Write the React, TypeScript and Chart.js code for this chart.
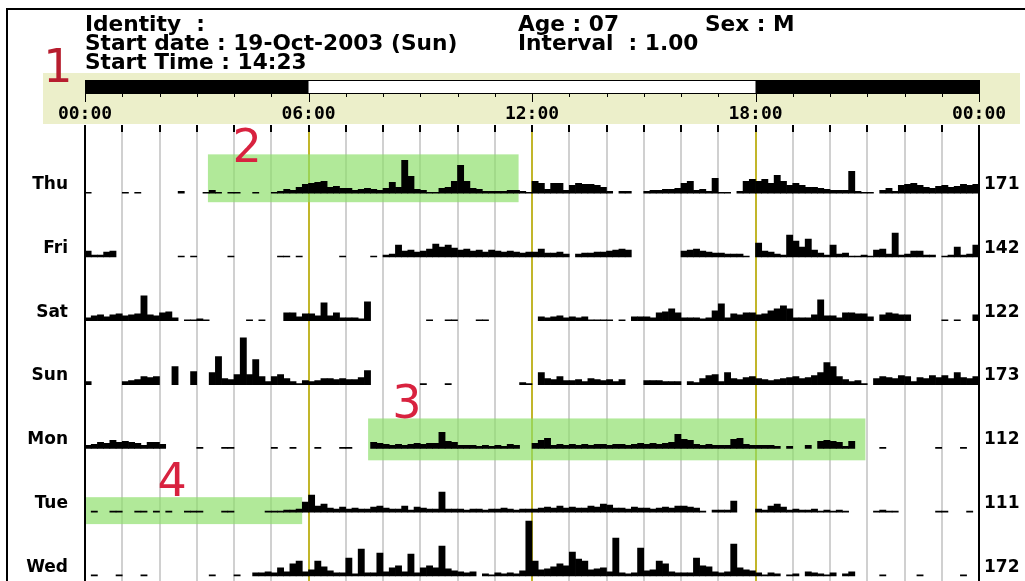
import React, { useEffect, useRef } from 'react';
import { Chart, registerables } from 'chart.js';

Chart.register(...registerables);

// ---------- data ----------
const DAYS = ['Thu', 'Fri', 'Sat', 'Sun', 'Mon', 'Tue', 'Wed'];
const TOTALS = [171, 142, 122, 173, 112, 111, 172];
const HOUR_TICKS = [0, 1, 2, 3, 4, 5, 6, 7, 8, 9, 10, 11, 12, 13, 14, 15, 16, 17, 18, 19, 20, 21, 22, 23, 24];
const BINS_PER_HOUR = 6; // 10-minute bins
const ROW_SPAN = 64; // activity counts between two day baselines

// activity counts per 10-minute bin (6 per hour, 24 hours)
const thu = [
  1, 0, 0, 0, 0, 0, 1, 0, 1, 0, 0, 0, 0, 0, 0, 2, 0, 0, 0, 1, 3, 1, 0, 1,
  1, 0, 0, 1, 0, 0, 1, 2, 4, 3, 6, 9, 10, 11, 12, 6, 7, 5, 5, 3, 4, 5, 4, 3,
  5, 11, 6, 33, 17, 4, 3, 1, 1, 5, 6, 12, 28, 12, 5, 4, 2, 2, 2, 2, 3, 3, 2, 1,
  12, 10, 4, 10, 10, 3, 8, 10, 9, 9, 8, 6, 2, 0, 2, 2, 0, 0, 2, 3, 3, 4, 4, 5,
  10, 12, 3, 4, 2, 15, 1, 1, 0, 2, 12, 14, 12, 14, 10, 18, 12, 8, 10, 8, 6, 6, 5, 4,
  3, 3, 3, 22, 2, 1, 1, 0, 3, 5, 2, 8, 9, 10, 8, 6, 5, 7, 8, 6, 7, 9, 8, 9,
];
const fri = [
  6, 2, 2, 5, 6, 0, 0, 0, 0, 0, 0, 0, 0, 0, 0, 1, 0, 1, 0, 0, 0, 0, 0, 1,
  0, 0, 0, 0, 0, 0, 0, 1, 1, 0, 1, 0, 0, 0, 0, 0, 0, 1, 0, 0, 0, 0, 1, 0,
  2, 3, 12, 6, 7, 5, 6, 8, 13, 10, 12, 9, 7, 8, 6, 7, 5, 7, 6, 5, 6, 5, 4, 5,
  5, 8, 4, 4, 5, 3, 0, 3, 4, 4, 5, 5, 6, 7, 8, 7, 0, 0, 0, 0, 0, 0, 0, 0,
  6, 7, 8, 6, 5, 4, 4, 3, 3, 3, 1, 0, 14, 6, 5, 3, 2, 22, 16, 10, 18, 7, 4, 2,
  12, 3, 4, 1, 1, 2, 1, 7, 8, 3, 24, 2, 3, 6, 6, 2, 2, 0, 1, 2, 10, 2, 3, 12,
];
const sat = [
  3, 5, 6, 4, 6, 7, 5, 6, 7, 25, 6, 5, 8, 9, 3, 0, 1, 1, 2, 1, 0, 0, 0, 0,
  0, 0, 1, 0, 1, 0, 0, 0, 8, 8, 4, 7, 7, 5, 18, 5, 8, 3, 3, 3, 2, 19, 0, 0,
  0, 0, 0, 0, 0, 0, 0, 1, 0, 0, 1, 1, 0, 0, 0, 1, 1, 0, 0, 0, 0, 0, 0, 0,
  0, 4, 3, 4, 5, 3, 4, 3, 4, 1, 1, 1, 1, 0, 1, 0, 4, 4, 4, 3, 8, 9, 12, 8,
  3, 3, 3, 2, 3, 10, 17, 3, 7, 6, 8, 8, 6, 7, 10, 12, 15, 12, 3, 3, 3, 6, 21, 5,
  5, 3, 8, 8, 7, 7, 4, 0, 6, 8, 7, 6, 6, 0, 0, 0, 0, 0, 1, 0, 1, 0, 0, 6,
];
const sun = [
  3, 0, 0, 0, 0, 0, 3, 4, 5, 8, 7, 8, 0, 0, 18, 0, 0, 13, 0, 0, 12, 28, 6, 5,
  10, 47, 10, 25, 8, 3, 8, 10, 6, 3, 1, 4, 3, 4, 6, 6, 5, 6, 5, 5, 7, 14, 0, 0,
  0, 0, 0, 0, 0, 0, 1, 0, 0, 0, 1, 0, 0, 0, 0, 0, 0, 0, 0, 0, 0, 0, 2, 1,
  0, 12, 6, 5, 8, 4, 4, 5, 3, 6, 5, 4, 5, 3, 5, 0, 0, 0, 4, 4, 4, 3, 3, 3,
  0, 3, 2, 6, 9, 10, 3, 12, 6, 5, 7, 8, 6, 5, 4, 5, 6, 7, 8, 6, 7, 9, 12, 22,
  18, 8, 5, 3, 4, 1, 0, 6, 8, 7, 6, 9, 8, 3, 7, 6, 9, 7, 9, 6, 12, 7, 6, 8,
];
const mon = [
  3, 4, 6, 5, 8, 6, 7, 6, 5, 3, 6, 6, 4, 0, 0, 0, 0, 0, 1, 0, 0, 0, 1, 1,
  0, 0, 0, 0, 0, 0, 1, 0, 0, 1, 0, 0, 0, 1, 0, 0, 0, 1, 1, 0, 0, 0, 6, 5,
  4, 3, 4, 3, 4, 5, 4, 5, 5, 16, 7, 6, 3, 3, 3, 2, 3, 2, 3, 2, 4, 3, 0, 0,
  5, 8, 10, 3, 4, 3, 4, 3, 4, 3, 4, 4, 3, 4, 4, 3, 4, 5, 4, 5, 4, 5, 6, 14,
  9, 8, 4, 3, 4, 3, 3, 3, 9, 10, 4, 3, 3, 3, 3, 2, 0, 2, 0, 0, 3, 0, 7, 8,
  7, 6, 2, 7, 0, 0, 0, 0, 1, 0, 0, 0, 0, 0, 0, 0, 0, 1, 0, 0, 0, 1, 0, 0,
];
const tue = [
  0, 1, 0, 0, 1, 1, 0, 0, 1, 1, 0, 1, 0, 1, 0, 0, 1, 1, 1, 0, 0, 0, 1, 1,
  0, 0, 0, 0, 0, 1, 1, 1, 2, 2, 3, 10, 17, 6, 8, 4, 3, 5, 3, 4, 3, 3, 5, 6,
  4, 3, 3, 6, 2, 5, 4, 3, 3, 20, 3, 3, 3, 2, 3, 3, 2, 3, 3, 4, 3, 2, 3, 3,
  3, 4, 5, 4, 6, 4, 5, 4, 4, 6, 5, 8, 7, 4, 4, 3, 5, 4, 4, 3, 4, 5, 4, 6,
  6, 5, 4, 1, 0, 2, 2, 2, 11, 0, 0, 0, 3, 2, 6, 8, 5, 2, 3, 2, 2, 3, 1, 2,
  1, 2, 1, 0, 0, 0, 0, 1, 2, 1, 1, 0, 0, 0, 0, 0, 0, 1, 1, 0, 0, 0, 1, 0,
];
const wed = [
  0, 1, 0, 0, 0, 1, 0, 0, 0, 1, 0, 0, 0, 0, 0, 0, 0, 0, 0, 0, 1, 0, 0, 0,
  1, 0, 0, 3, 3, 4, 3, 8, 4, 12, 15, 4, 6, 15, 9, 5, 3, 3, 18, 2, 27, 3, 3, 23,
  4, 8, 10, 4, 22, 3, 8, 10, 8, 30, 7, 5, 4, 3, 4, 0, 2, 1, 3, 2, 3, 2, 5, 55,
  15, 6, 7, 9, 12, 10, 24, 17, 15, 6, 7, 8, 4, 38, 3, 2, 3, 28, 5, 6, 15, 12, 4, 3,
  3, 3, 18, 10, 9, 4, 3, 4, 32, 8, 6, 5, 3, 1, 3, 2, 0, 1, 2, 0, 4, 3, 2, 1,
  3, 0, 2, 4, 0, 0, 0, 0, 1, 0, 0, 0, 0, 0, 1, 0, 0, 0, 0, 0, 0, 1, 0, 0,
];
const SERIES = [thu, fri, sat, sun, mon, tue, wed];

// light / dark schedule (hours)
const DARK_START = [0, 18];
const DARK_END = [6, 24];

// header texts
const HEADER_TEXT = ['Identity  :', 'Start date : 19-Oct-2003 (Sun)', 'Start Time : 14:23'];
const HEADER_RIGHT = ['Age : 07', 'Interval  : 1.00'];
const HEADER_SEX = 'Sex : M';

// highlighted regions (row index, hour range, count offsets around baseline)
const BOX_LABELS = ['2', '3', '4'];
const BOX_ROWS = [0, 4, 5];
const BOX_FROM = [3.3, 7.6, 0];
const BOX_TO = [11.64, 20.95, 5.83];
const BOX_TOP = [39, 30, 15];
const BOX_BOTTOM = [-9, -12, -12];
const LABEL_HOUR = [4.35, 8.64, 2.34];
const LABEL_OFFSET = [43, 42, 28];

const fmtHour = (h: number) => String(h % 24).padStart(2, '0') + ':00';
const baseOf = (row: number) => ROW_SPAN * (DAYS.length - 1 - row);

const decor = {
  id: 'decor',
  beforeDraw(chart: any) {
    const { ctx, width, height } = chart;
    ctx.save();
    ctx.fillStyle = '#ffffff';
    ctx.fillRect(0, 0, width, height);
    ctx.fillStyle = '#ecefca';
    ctx.fillRect(43, 73, 977, 51);
    ctx.restore();
  },
  beforeDatasetsDraw(chart: any) {
    const { ctx } = chart;
    const xs = chart.scales.x;
    const ys = chart.scales.y;
    ctx.save();
    ctx.fillStyle = 'rgba(140,222,105,0.68)';
    BOX_ROWS.forEach((row, i) => {
      const b = baseOf(row);
      const x0 = xs.getPixelForValue(BOX_FROM[i]) + (BOX_FROM[i] === 0 ? 1 : 0);
      const x1 = xs.getPixelForValue(BOX_TO[i]);
      const y0 = ys.getPixelForValue(b + BOX_TOP[i]);
      const y1 = ys.getPixelForValue(b + BOX_BOTTOM[i]);
      ctx.fillRect(x0, y0, x1 - x0, y1 - y0);
    });
    ctx.restore();
  },
  afterDraw(chart: any) {
    const { ctx } = chart;
    const xs = chart.scales.x;
    const ys = chart.scales.y;
    ctx.save();
    // frame
    ctx.fillStyle = '#000';
    ctx.fillRect(6, 8, 1019, 2);
    ctx.fillRect(6, 8, 2, 640);
    // header text
    ctx.font = 'bold 21.7px "DejaVu Sans"';
    ctx.textBaseline = 'alphabetic';
    ctx.textAlign = 'left';
    const lineY = [31, 50, 69];
    HEADER_TEXT.forEach((t, i) => ctx.fillText(t, 85, lineY[i]));
    HEADER_RIGHT.forEach((t, i) => ctx.fillText(t, 518, lineY[i]));
    ctx.fillText(HEADER_SEX, 705, lineY[0]);
    // light/dark bar
    const x0 = xs.getPixelForValue(0);
    const x24 = xs.getPixelForValue(24);
    const top = 80;
    const bottom = 94;
    ctx.fillStyle = '#fff';
    ctx.fillRect(x0, top, x24 - x0, bottom - top);
    ctx.fillStyle = '#000';
    DARK_START.forEach((s, i) => {
      const a = xs.getPixelForValue(s);
      const b = xs.getPixelForValue(DARK_END[i]);
      ctx.fillRect(a, top, b - a, bottom - top);
    });
    ctx.strokeStyle = '#000';
    ctx.lineWidth = 1;
    ctx.strokeRect(Math.round(x0) + 0.5, top + 0.5, Math.round(x24 - x0), bottom - top - 1);
    HOUR_TICKS.forEach((h) => {
      const px = Math.round(xs.getPixelForValue(h)) + 0.5;
      ctx.beginPath();
      ctx.moveTo(px, bottom);
      ctx.lineTo(px, h % 6 === 0 ? bottom + 8 : bottom + 3);
      ctx.stroke();
    });
    // red markers
    ctx.font = '46px "DejaVu Sans"';
    ctx.textAlign = 'center';
    ctx.textBaseline = 'middle';
    ctx.fillStyle = '#b71d2e';
    ctx.fillText('1', 58, 70);
    ctx.fillStyle = '#d8223f';
    BOX_LABELS.forEach((t, i) => {
      ctx.fillText(t, xs.getPixelForValue(LABEL_HOUR[i]), ys.getPixelForValue(baseOf(BOX_ROWS[i]) + LABEL_OFFSET[i]));
    });
    ctx.restore();
  },
};

export default function App() {
  const ref = useRef<HTMLCanvasElement | null>(null);
  useEffect(() => {
    if (!ref.current) return;
    const datasets = SERIES.map((vals, row) => {
      const base = baseOf(row);
      const data: any[] = [];
      vals.forEach((v, j) => {
        if (v > 0) data.push({ x: (j + 0.5) / BINS_PER_HOUR, y: [base, base + v] });
      });
      return {
        label: DAYS[row],
        data,
        backgroundColor: '#000',
        borderWidth: 0,
        grouped: false,
        barPercentage: 1,
        categoryPercentage: 1,
        yAxisID: 'y',
      };
    });
    const rowTicks = DAYS.map((_, i) => ({ value: baseOf(i) }));
    const chart = new Chart(ref.current, {
      type: 'bar',
      data: { datasets },
      plugins: [decor],
      options: {
        animation: false,
        responsive: false,
        devicePixelRatio: 1,
        layout: { padding: { top: 0, left: 0, right: 0, bottom: 13 } },
        plugins: { legend: { display: false }, tooltip: { enabled: false } },
        scales: {
          x: {
            type: 'linear',
            position: 'top',
            offset: false,
            min: 0,
            max: 24,
            afterBuildTicks: (s: any) => {
              s.ticks = HOUR_TICKS.map((h) => ({ value: h }));
            },
            afterFit: (s: any) => {
              s.height = 132;
            },
            ticks: {
              autoSkip: false,
              maxRotation: 0,
              minRotation: 0,
              padding: 0,
              color: '#000',
              font: { family: 'DejaVu Sans Mono', size: 18, weight: 'bold' },
              callback: (v: any) => (Number(v) % 6 === 0 ? fmtHour(Number(v)) : ''),
            },
            grid: {
              offset: false,
              drawTicks: true,
              tickLength: 7,
              tickColor: '#000',
              color: (c: any) => {
                const v = c.tick ? c.tick.value : 0;
                if (v === 0 || v === 24) return '#000';
                return v % 6 === 0 ? '#c2b62a' : '#d0d0d0';
              },
              lineWidth: 2,
            },
            border: { display: false },
          },
          y: {
            type: 'linear',
            position: 'left',
            min: -0.5 * ROW_SPAN,
            max: 6.96 * ROW_SPAN,
            afterBuildTicks: (s: any) => {
              s.ticks = rowTicks.map((t) => ({ ...t }));
            },
            afterFit: (s: any) => {
              s.width = 85;
            },
            ticks: {
              padding: 17,
              labelOffset: -8.5,
              color: '#000',
              font: { family: 'DejaVu Sans', size: 17, weight: 'bold' },
              callback: (v: any) => DAYS[DAYS.length - 1 - Math.round(Number(v) / ROW_SPAN)],
            },
            grid: { display: false, drawTicks: false, tickLength: 0 },
            border: { display: true, color: '#000', width: 2 },
          },
          y2: {
            type: 'linear',
            position: 'right',
            min: -0.5 * ROW_SPAN,
            max: 6.96 * ROW_SPAN,
            afterBuildTicks: (s: any) => {
              s.ticks = rowTicks.map((t) => ({ ...t }));
            },
            afterFit: (s: any) => {
              s.width = 46;
            },
            ticks: {
              padding: 5,
              labelOffset: -8.5,
              color: '#000',
              font: { family: 'DejaVu Sans', size: 17, weight: 'bold' },
              callback: (v: any) => String(TOTALS[DAYS.length - 1 - Math.round(Number(v) / ROW_SPAN)]),
            },
            grid: { display: false, drawTicks: false, tickLength: 0 },
            border: { display: true, color: '#000', width: 2 },
          },
        },
      } as any,
    });
    return () => chart.destroy();
  }, []);
  return (
    <div style={{ position: 'fixed', left: 0, top: 0, width: 1025, height: 581, overflow: 'hidden', background: '#fff' }}>
      <canvas ref={ref} width={1025} height={635} style={{ display: 'block', width: 1025, height: 635 }} />
    </div>
  );
}
